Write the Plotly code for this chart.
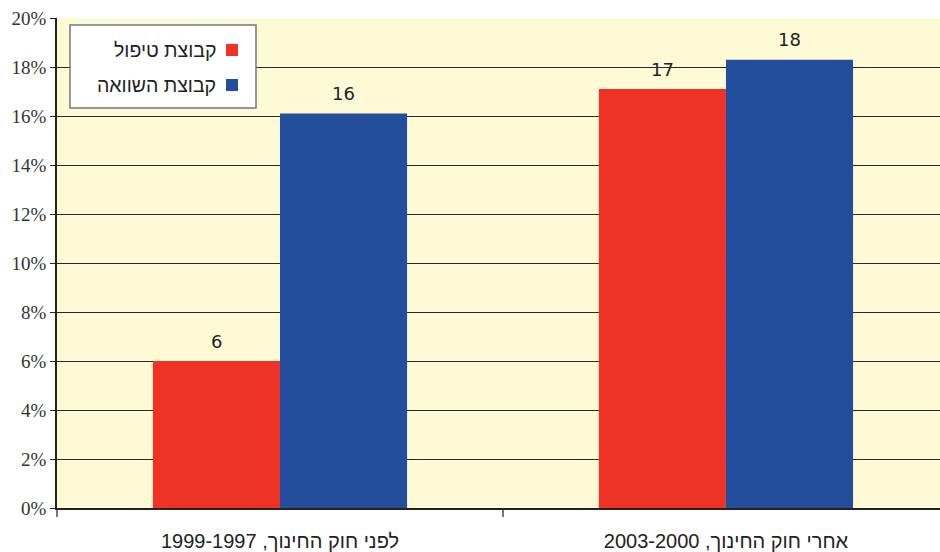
import plotly.graph_objects as go

# Share of pupils (%) before and after the education law
categories = ["לפני חוק החינוך, 1999-1997", "אחרי חוק החינוך, 2003-2000"]
series_names = ["קבוצת טיפול", "קבוצת השוואה"]
treatment = [6.0, 17.1]
comparison = [16.1, 18.3]
tick_vals = [0, 2, 4, 6, 8, 10, 12, 14, 16, 18, 20]
tick_text = [f"{v}%" for v in tick_vals]

RED = "#EE3224"
BLUE = "#224E9C"
BG = "#FFFAD6"
BARGAP = 0.43

fig = go.Figure()
for name, vals, col in [(series_names[0], treatment, RED), (series_names[1], comparison, BLUE)]:
    fig.add_trace(go.Bar(
        x=categories, y=vals, name=name, marker=dict(color=col, line=dict(width=0)),
        showlegend=False,
    ))

# value labels above each bar
half = (1 - BARGAP) / 4
for j, vals in enumerate([treatment, comparison]):
    for i, v in enumerate(vals):
        fig.add_annotation(
            x=i + (-half if j == 0 else half), y=v, xref="x", yref="y",
            text=f"{v:.0f}", showarrow=False, yanchor="middle", yshift=20,
            font=dict(family="DejaVu Sans", size=18, color="#222222"),
        )

# legend box (right-to-left: swatch on the right of the label)
def px_x(p):
    return (p - 57) / 883

def px_y(p):
    return (508 - p) / 490

fig.add_shape(type="rect", xref="paper", yref="paper",
              x0=px_x(70), x1=px_x(256), y0=px_y(108), y1=px_y(25),
              fillcolor="white", line=dict(color="#777777", width=1.5), layer="above")
for k, (name, col) in enumerate([(series_names[0], RED), (series_names[1], BLUE)]):
    cy = 50 + k * 35
    fig.add_shape(type="rect", xref="paper", yref="paper",
                  x0=px_x(226), x1=px_x(238), y0=px_y(cy + 6), y1=px_y(cy - 6),
                  fillcolor=col, line=dict(width=0), layer="above")
    fig.add_annotation(x=px_x(218), y=px_y(cy), xref="paper", yref="paper",
                       text=name, showarrow=False, xanchor="right", yanchor="middle",
                       font=dict(family="Liberation Sans", size=19.5, color="#222222"))

fig.update_layout(
    width=940, height=552,
    margin=dict(l=57, r=0, t=18, b=44),
    paper_bgcolor="white", plot_bgcolor=BG,
    barmode="group", bargap=BARGAP, bargroupgap=0,
    xaxis=dict(
        type="category", range=[-0.5, 1.48],
        showgrid=False, showline=True, linecolor="#222222", linewidth=1.5,
        ticks="outside", tickson="boundaries", ticklen=7, tickcolor="#777777", tickwidth=2,
        ticklabelstandoff=14,
        tickfont=dict(family="Liberation Sans", size=20, color="#222222"),
    ),
    yaxis=dict(
        range=[0, 20], tickvals=tick_vals, ticktext=tick_text,
        showgrid=True, gridcolor="#2a2a2a", gridwidth=1,
        showline=True, linecolor="#222222", linewidth=1.5,
        ticks="outside", ticklen=5, tickcolor="#222222",
        tickfont=dict(family="Liberation Serif", size=19, color="#333333"),
        zeroline=False,
    ),
)

fig.write_html("out.html")
